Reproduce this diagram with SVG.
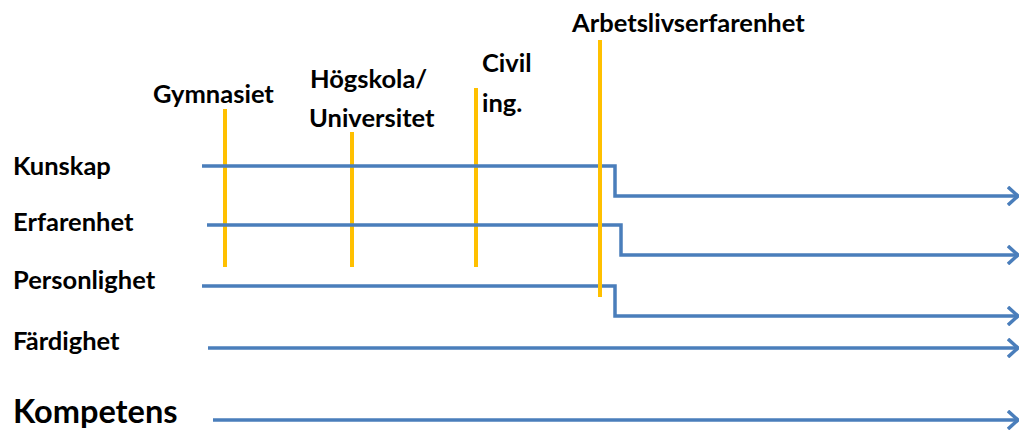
<svg xmlns="http://www.w3.org/2000/svg" width="1021" height="430" viewBox="0 0 1021 430">
<style>
.lbl{font-family:Lato,"Open Sans","Liberation Sans",sans-serif;font-weight:bold;font-size:25.5px;fill:#000}
.big{font-size:32.5px}
.ln{fill:none;stroke:#4A7EBB;stroke-width:3.5}
.or{stroke:#FFC000;stroke-width:4}
</style>
<defs>
<marker id="ah" viewBox="0 0 12 20" refX="11" refY="10" markerWidth="12" markerHeight="20" markerUnits="userSpaceOnUse" orient="auto">
<path d="M1,1 L11,10 L1,19" fill="none" stroke="#4A7EBB" stroke-width="3.5"/>
</marker>
</defs>
<rect width="1021" height="430" fill="#fff"/>
<g id="timeline">
<line id="gymnasiet-mark" class="or" x1="225" y1="109" x2="225" y2="267"/>
<line id="hogskola-mark" class="or" x1="352" y1="132" x2="352" y2="267"/>
<line id="civil-mark" class="or" x1="476" y1="88" x2="476" y2="267"/>
</g>
<g id="connectors">
<path class="ln" marker-end="url(#ah)" d="M202,166 H615 V196 H1018"/>
<path class="ln" marker-end="url(#ah)" d="M207,225 H621 V255 H1018"/>
<path class="ln" marker-end="url(#ah)" d="M202,286 H615 V316 H1018"/>
<path class="ln" marker-end="url(#ah)" d="M208,348 H1018"/>
<path class="ln" marker-end="url(#ah)" d="M213,420 H1018"/>
</g>
<line id="arbetsliv-mark" class="or" x1="600" y1="40" x2="600" y2="297"/>
<g id="kunskap"><text class="lbl" x="13" y="175">Kunskap</text></g>
<g id="erfarenhet"><text class="lbl" x="13" y="231">Erfarenhet</text></g>
<g id="personlighet"><text class="lbl" x="13" y="289">Personlighet</text></g>
<g id="fardighet"><text class="lbl" x="13" y="350">Färdighet</text></g>
<g id="kompetens"><text class="lbl big" x="13" y="423">Kompetens</text></g>
<g id="gymnasiet"><text class="lbl" x="153" y="103">Gymnasiet</text></g>
<g id="hogskola"><text class="lbl" x="310" y="88">Högskola/</text><text class="lbl" x="309" y="127">Universitet</text></g>
<g id="civil"><text class="lbl" x="482" y="72">Civil</text><text class="lbl" x="482" y="112">ing.</text></g>
<g id="arbetsliv"><text class="lbl" x="572" y="32">Arbetslivserfarenhet</text></g>
</svg>
